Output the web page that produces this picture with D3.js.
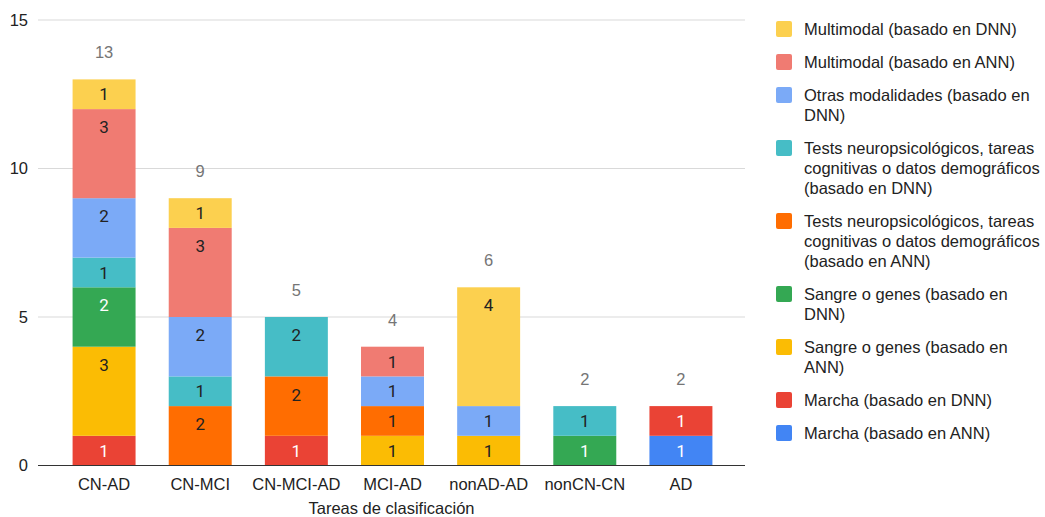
<!DOCTYPE html>
<html>
<head>
<meta charset="utf-8">
<script src="https://cdn.jsdelivr.net/npm/d3@7"></script>
<style>
  body { margin: 0; background: #fff; }
  svg { display: block; font-family: Arial, "Liberation Sans", sans-serif; }
</style>
</head>
<body>
<svg id="chart" width="1045" height="517"></svg>
<script>
// Classification tasks
const categories = ["CN-AD", "CN-MCI", "CN-MCI-AD", "MCI-AD", "nonAD-AD", "nonCN-CN", "AD"];

// Series, listed bottom of the stack first
const seriesNames = [
  "Marcha (basado en ANN)",
  "Marcha (basado en DNN)",
  "Sangre o genes (basado en ANN)",
  "Sangre o genes (basado en DNN)",
  "Tests neuropsicológicos, tareas cognitivas o datos demográficos (basado en ANN)",
  "Tests neuropsicológicos, tareas cognitivas o datos demográficos (basado en DNN)",
  "Otras modalidades (basado en DNN)",
  "Multimodal (basado en ANN)",
  "Multimodal (basado en DNN)"
];
const seriesColors = ["#4285F4", "#EA4335", "#FBBC04", "#34A853", "#FF6D01", "#46BDC6", "#7BAAF7", "#F07B72", "#FCD04F"];
const labelColors  = ["#fff", "#fff", "#222", "#fff", "#222", "#222", "#222", "#222", "#222"];

// Counts per series, one value per category
const marchaANN   = [0, 0, 0, 0, 0, 0, 1];
const marchaDNN   = [1, 0, 1, 0, 0, 0, 1];
const sangreANN   = [3, 0, 0, 1, 1, 0, 0];
const sangreDNN   = [2, 0, 0, 0, 0, 1, 0];
const testsANN    = [0, 2, 2, 1, 0, 0, 0];
const testsDNN    = [1, 1, 2, 0, 0, 1, 0];
const otrasDNN    = [2, 2, 0, 1, 1, 0, 0];
const multiANN    = [3, 3, 0, 1, 0, 0, 0];
const multiDNN    = [1, 1, 0, 0, 4, 0, 0];
const seriesValues = [marchaANN, marchaDNN, sangreANN, sangreDNN, testsANN, testsDNN, otrasDNN, multiANN, multiDNN];

const yTicks = [0, 5, 10, 15];
const xTitle = "Tareas de clasificación";

// Legend entries are drawn top-down, wrapped into lines
const legendLines = [
  ["Multimodal (basado en DNN)"],
  ["Multimodal (basado en ANN)"],
  ["Otras modalidades (basado en", "DNN)"],
  ["Tests neuropsicológicos, tareas", "cognitivas o datos demográficos", "(basado en DNN)"],
  ["Tests neuropsicológicos, tareas", "cognitivas o datos demográficos", "(basado en ANN)"],
  ["Sangre o genes (basado en", "DNN)"],
  ["Sangre o genes (basado en", "ANN)"],
  ["Marcha (basado en DNN)"],
  ["Marcha (basado en ANN)"]
];

const FS = 16.5;
const svg = d3.select("#chart");
const plot = { left: 38, right: 745, top: 20, bottom: 465.5 };

const rows = categories.map((c, i) => {
  const r = { cat: c };
  seriesNames.forEach((s, j) => { r[s] = seriesValues[j][i]; });
  return r;
});
const stacked = d3.stack().keys(seriesNames)(rows);
const totals = categories.map((c, i) => d3.sum(seriesValues, v => v[i]));

const x = d3.scaleBand().domain(categories).range([56, 729]).paddingInner(0.345).paddingOuter(0.1725);
const y = d3.scaleLinear().domain([0, 15]).range([plot.bottom, plot.top]);

// Gridlines
svg.append("g").selectAll("line").data(yTicks.filter(t => t !== 0)).join("line")
  .attr("x1", plot.left).attr("x2", plot.right)
  .attr("y1", d => y(d)).attr("y2", d => y(d))
  .attr("stroke", "#d9d9d9").attr("stroke-width", 1);

// Y tick labels
svg.append("g").selectAll("text").data(yTicks).join("text")
  .attr("x", 28).attr("y", d => y(d)).attr("dy", "0.36em")
  .attr("text-anchor", "end").attr("font-size", FS).attr("fill", "#222")
  .text(d => d);

// Stacked bars
const layer = svg.append("g").selectAll("g").data(stacked).join("g")
  .attr("fill", (d, i) => seriesColors[i]);
layer.selectAll("rect").data(d => d.filter(p => p[1] - p[0] > 0)).join("rect")
  .attr("x", d => x(d.data.cat))
  .attr("width", x.bandwidth())
  .attr("y", d => y(d[1]))
  .attr("height", d => y(d[0]) - y(d[1]));

// Segment value labels, near the top of tall segments, centred in short ones
svg.append("g").selectAll("g").data(stacked).join("g")
  .attr("fill", (d, i) => labelColors[i])
  .selectAll("text").data(d => d.filter(p => p[1] - p[0] > 0)).join("text")
  .attr("x", d => x(d.data.cat) + x.bandwidth() / 2)
  .attr("y", d => y(d[1]) + Math.min(18, (y(d[0]) - y(d[1])) / 2))
  .attr("dy", "0.36em")
  .attr("text-anchor", "middle").attr("font-size", 17)
  .attr("font-family", "Roboto, Arial, sans-serif")
  .text(d => d[1] - d[0]);

// Totals above bars
svg.append("g").selectAll("text").data(categories).join("text")
  .attr("x", d => x(d) + x.bandwidth() / 2)
  .attr("y", (d, i) => y(totals[i]) - 27)
  .attr("dy", "0.36em")
  .attr("text-anchor", "middle").attr("font-size", FS).attr("fill", "#757575")
  .text((d, i) => totals[i]);

// Baseline
svg.append("line")
  .attr("x1", plot.left).attr("x2", plot.right)
  .attr("y1", y(0)).attr("y2", y(0))
  .attr("stroke", "#333").attr("stroke-width", 1);

// Category labels
svg.append("g").selectAll("text").data(categories).join("text")
  .attr("x", d => x(d) + x.bandwidth() / 2).attr("y", 484)
  .attr("dy", "0.36em")
  .attr("text-anchor", "middle").attr("font-size", FS).attr("fill", "#222")
  .text(d => d);

// Axis title
svg.append("text")
  .attr("x", (plot.left + plot.right) / 2).attr("y", 508)
  .attr("dy", "0.36em")
  .attr("text-anchor", "middle").attr("font-size", FS).attr("fill", "#222")
  .text(xTitle);

// Legend
const legendColors = seriesColors.slice().reverse();
const legend = svg.append("g");
let ly = 29;
legendLines.forEach((lines, i) => {
  legend.append("rect")
    .attr("x", 776).attr("y", ly - 8).attr("width", 16).attr("height", 16)
    .attr("rx", 2).attr("fill", legendColors[i]);
  lines.forEach((t, k) => {
    legend.append("text")
      .attr("x", 804).attr("y", ly + k * 20).attr("dy", "0.36em")
      .attr("font-size", FS).attr("fill", "#222")
      .text(t);
  });
  ly += 33 + (lines.length - 1) * 20;
});
</script>
</body>
</html>
